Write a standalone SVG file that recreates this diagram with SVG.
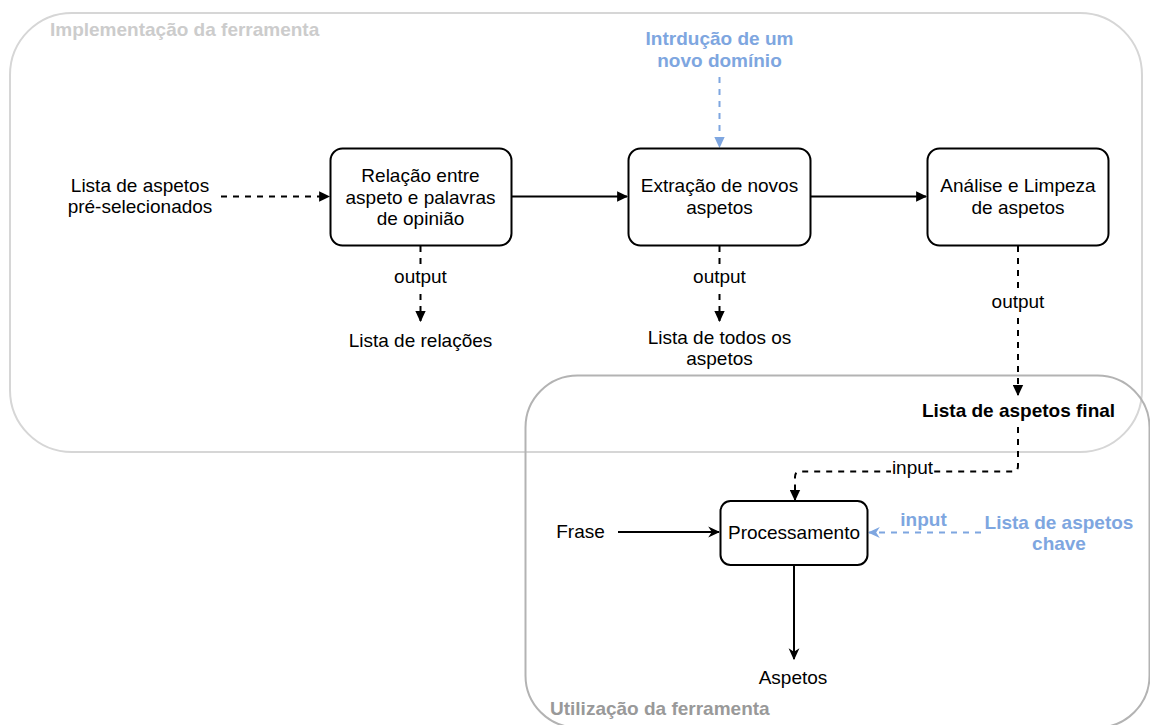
<svg xmlns="http://www.w3.org/2000/svg" width="1150" height="725" viewBox="0 0 1150 725">
  <style>
    text { font-family: "Liberation Sans", Arial, Helvetica, sans-serif; font-size: 19px; fill: #000; }
    .c { text-anchor: middle; }
    .b { font-weight: bold; }
    .blue { fill: #7EA6E0; }
    .node { fill: #fff; stroke: #000; stroke-width: 2; }
    .line { fill: none; stroke: #000; stroke-width: 2; }
    .dash { stroke-dasharray: 6 6; }
    .bline { fill: none; stroke: #7EA6E0; stroke-width: 2; stroke-dasharray: 6 6; }
    .lbg { fill: #fff; }
  </style>
  <defs>
    <marker id="blk" viewBox="0 0 10 10" refX="9" refY="5" markerWidth="11" markerHeight="11" markerUnits="userSpaceOnUse" orient="auto">
      <path d="M0,0.3 L10,5 L0,9.7 Z" fill="#000"/>
    </marker>
    <marker id="blkBlue" viewBox="0 0 10 10" refX="9" refY="5" markerWidth="11" markerHeight="11" markerUnits="userSpaceOnUse" orient="auto">
      <path d="M0,0.3 L10,5 L0,9.7 Z" fill="#7EA6E0"/>
    </marker>
    <marker id="cls" viewBox="0 0 10 10" refX="9" refY="5" markerWidth="12" markerHeight="12" markerUnits="userSpaceOnUse" orient="auto">
      <path d="M0,0.5 L10,5 L0,9.5 L3,5 Z" fill="#000"/>
    </marker>
    <marker id="clsBlue" viewBox="0 0 10 10" refX="9" refY="5" markerWidth="12" markerHeight="12" markerUnits="userSpaceOnUse" orient="auto">
      <path d="M0,0.5 L10,5 L0,9.5 L3,5 Z" fill="#7EA6E0"/>
    </marker>
  </defs>

  <rect width="1150" height="725" fill="#fff"/>

  <!-- containers -->
  <g id="container-implementacao">
    <rect x="10" y="13" width="1132" height="439" rx="62" ry="62" fill="none" stroke="#d6d6d6" stroke-width="2"/>
    <text x="50" y="35.5" class="b" style="fill:#cccccc">Implementação da ferramenta</text>
  </g>
  <g id="container-utilizacao">
    <rect x="525.5" y="375.5" width="624" height="352" rx="52" ry="52" fill="none" stroke="#b3b3b3" stroke-width="2"/>
    <text x="550" y="715" class="b" style="fill:#999999">Utilização da ferramenta</text>
  </g>

  <!-- connectors -->
  <g id="connectors">
    <path class="line dash" d="M221,196.5 L329,196.5" marker-end="url(#blk)"/>
    <path class="line" d="M512,196.5 L627,196.5" marker-end="url(#blk)"/>
    <path class="line" d="M811,196.5 L926,196.5" marker-end="url(#blk)"/>

    <path class="line dash" d="M420.5,246 L420.5,321" marker-end="url(#blk)"/>
    <path class="line dash" d="M719.5,246 L719.5,321" marker-end="url(#blk)"/>
    <path class="line dash" d="M1018,246 L1018,395" marker-end="url(#blk)"/>

    <path class="line dash" d="M1018,427 L1018,466 Q1018,471.5 1012.5,471.5 L800,471.5 Q795,471.5 795,477 L795,500" marker-end="url(#blk)"/>

    <path class="bline" d="M719.5,77 L719.5,147" marker-end="url(#blkBlue)"/>
    <path class="bline" d="M981,532.5 L869,532.5" marker-end="url(#clsBlue)"/>

    <path class="line" d="M618,532 L719,532" marker-end="url(#cls)"/>
    <path class="line" d="M794,565 L794,659" marker-end="url(#cls)"/>

    <!-- connector labels -->
    <rect class="lbg" x="392" y="266" width="57" height="22"/>
    <text x="420.5" y="283" class="c">output</text>
    <rect class="lbg" x="691" y="266" width="57" height="22"/>
    <text x="719.5" y="283" class="c">output</text>
    <rect class="lbg" x="989.5" y="291" width="57" height="22"/>
    <text x="1018" y="308" class="c">output</text>
    <rect class="lbg" x="891" y="459" width="43" height="21"/>
    <text x="912.5" y="473.5" class="c">input</text>
    <text x="923.5" y="526" class="c b blue">input</text>
  </g>

  <!-- nodes -->
  <g id="node-relacao">
    <rect class="node" x="330.5" y="148.5" width="181" height="97" rx="12" ry="12"/>
    <text x="420.5" y="182" class="c">Relação entre</text>
    <text x="420.5" y="203.5" class="c">aspeto e palavras</text>
    <text x="420.5" y="225" class="c">de opinião</text>
  </g>
  <g id="node-extracao">
    <rect class="node" x="628.5" y="148.5" width="182" height="97" rx="12" ry="12"/>
    <text x="719.5" y="192" class="c">Extração de novos</text>
    <text x="719.5" y="213.5" class="c">aspetos</text>
  </g>
  <g id="node-analise">
    <rect class="node" x="927.5" y="148.5" width="181" height="97" rx="12" ry="12"/>
    <text x="1018" y="192" class="c">Análise e Limpeza</text>
    <text x="1018" y="213.5" class="c">de aspetos</text>
  </g>
  <g id="node-processamento">
    <rect class="node" x="720.5" y="501" width="147" height="64" rx="10" ry="10"/>
    <text x="794" y="538.5" class="c">Processamento</text>
  </g>

  <!-- free text nodes -->
  <g id="text-lista-preselecionados">
    <text x="140" y="191.5" class="c">Lista de aspetos</text>
    <text x="140" y="213" class="c">pré-selecionados</text>
  </g>
  <g id="text-introducao">
    <text x="719.5" y="45" class="c b blue">Intrdução de um</text>
    <text x="719.5" y="67" class="c b blue">novo domínio</text>
  </g>
  <g id="text-lista-relacoes">
    <text x="420.5" y="346.5" class="c">Lista de relações</text>
  </g>
  <g id="text-lista-todos">
    <text x="719.5" y="343.5" class="c">Lista de todos os</text>
    <text x="719.5" y="365" class="c">aspetos</text>
  </g>
  <g id="text-lista-final">
    <text x="1018.5" y="417" class="c b">Lista de aspetos final</text>
  </g>
  <g id="text-frase">
    <text x="580.5" y="538" class="c">Frase</text>
  </g>
  <g id="text-aspetos">
    <text x="793" y="683.5" class="c">Aspetos</text>
  </g>
  <g id="text-lista-chave">
    <text x="1059" y="529" class="c b blue">Lista de aspetos</text>
    <text x="1059" y="550" class="c b blue">chave</text>
  </g>
</svg>
